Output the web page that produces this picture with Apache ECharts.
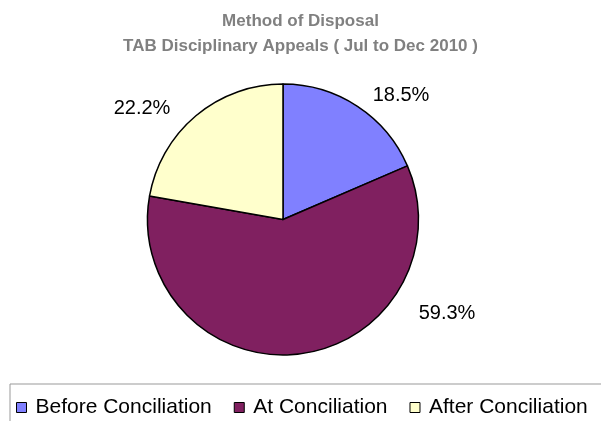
<!DOCTYPE html>
<html>
<head>
<meta charset="utf-8">
<script src="https://cdn.jsdelivr.net/npm/echarts@6/dist/echarts.min.js"></script>
<style>
  html, body { margin: 0; padding: 0; background: #fff; }
  #main { width: 601px; height: 421px; }
</style>
</head>
<body>
<div id="main"></div>
<script>
// disposal counts (27 appeals -> 18.5 / 59.3 / 22.2 %)
var categories = ['Before Conciliation', 'At Conciliation', 'After Conciliation'];
var counts = [5, 16, 6];
var colors = ['#8080FF', '#802060', '#FFFFCC'];

var labelPos = [[401, 95], [447, 313], [142, 108]];

var chart = echarts.init(document.getElementById('main'));
var option = {
  backgroundColor: '#fff',
  title: {
    text: 'Method of Disposal\nTAB Disciplinary Appeals ( Jul to Dec 2010 )',
    left: 'center',
    top: 4,
    textStyle: {
      fontFamily: 'Liberation Sans, Arial, sans-serif',
      fontSize: 17,
      fontWeight: 'bold',
      color: '#808080',
      lineHeight: 25
    }
  },
  legend: {
    data: categories,
    left: 11,
    top: 392,
    icon: 'rect',
    itemWidth: 10,
    itemHeight: 10,
    itemGap: 22,
    itemStyle: { borderColor: '#000', borderWidth: 1 },
    textStyle: {
      fontFamily: 'Liberation Sans, Arial, sans-serif',
      fontSize: 21,
      color: '#000',
      padding: [0, 0, 0, 4]
    }
  },
  graphic: [{
    type: 'rect',
    shape: { x: 10, y: 384, width: 640, height: 60 },
    style: { fill: 'none', stroke: '#999', lineWidth: 1 },
    z: -1
  }],
  series: [{
    type: 'pie',
    center: [283, 219.5],
    radius: 135.5,
    startAngle: 90,
    clockwise: true,
    percentPrecision: 1,
    animation: false,
    itemStyle: { borderColor: '#000', borderWidth: 1.5 },
    emphasis: { disabled: true },
    label: {
      show: true,
      formatter: '{d}%',
      fontFamily: 'Liberation Sans, Arial, sans-serif',
      fontSize: 20,
      color: '#000'
    },
    labelLine: { show: false },
    labelLayout: function (params) {
      var p = labelPos[params.dataIndex];
      return { x: p[0], y: p[1], align: 'center', verticalAlign: 'middle' };
    },
    data: categories.map(function (c, i) {
      return { name: c, value: counts[i], itemStyle: { color: colors[i] } };
    })
  }]
};
chart.setOption(option);
</script>
</body>
</html>
